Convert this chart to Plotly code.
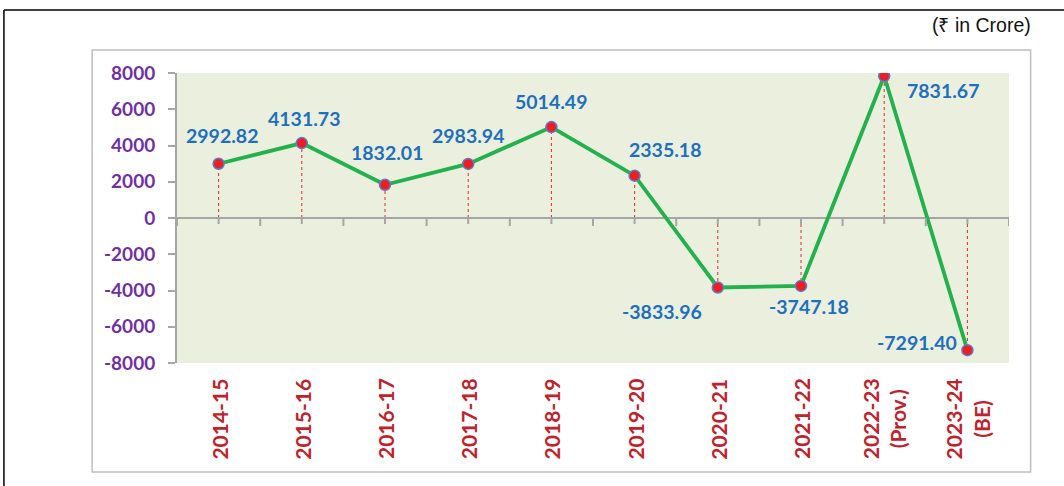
import plotly.graph_objects as go

years = ["2014-15", "2015-16", "2016-17", "2017-18", "2018-19", "2019-20",
         "2020-21", "2021-22", "2022-23<br>(Prov.)", "2023-24<br>(BE)"]
values = [2992.82, 4131.73, 1832.01, 2983.94, 5014.49, 2335.18,
          -3833.96, -3747.18, 7831.67, -7291.40]
labels = ["2992.82", "4131.73", "1832.01", "2983.94", "5014.49", "2335.18",
          "-3833.96", "-3747.18", "7831.67", "-7291.40"]
y_ticks = [8000, 6000, 4000, 2000, 0, -2000, -4000, -6000, -8000]

# label offsets in pixels (style)
label_dx = [4, 3, 2, 0, 0, 31, -56, 8, 59, -50]
label_dy = [28, 25, 32, 28, 26, 26, -24, -21, -14, 8]

FONT = "Lato"
GREEN = "#22B14C"
RED = "#EE1C25"
BLUE = "#1F6FBF"
PURPLE = "#7030A0"
XLAB = "#C0222C"
GRAY = "#A6A6A6"

fig = go.Figure()

fig.add_trace(go.Scatter(
    x=list(range(len(years))), y=values, mode="lines+markers",
    line=dict(color=GREEN, width=3.8),
    marker=dict(size=11, color=RED, line=dict(color="#5B7FC0", width=1.5)),
    hoverinfo="skip", showlegend=False,
))

shapes = []
# drop lines
for i, v in enumerate(values):
    shapes.append(dict(type="line", xref="x", yref="y", x0=i, x1=i, y0=0, y1=v,
                       line=dict(color="#E8262E", width=1, dash="dot"), layer="below"))
# ticks on zero line
n = len(years)
for k in range(2 * n + 1):
    xv = -0.5 + k * 0.5
    shapes.append(dict(type="line", xref="x", yref="y", ysizemode="pixel", yanchor=0,
                       x0=xv, x1=xv, y0=0, y1=-8 if k % 2 == 0 else -6,
                       line=dict(color=GRAY, width=2)))
# outer frame (black) and inner frame (gray)
shapes.append(dict(type="line", xref="paper", yref="paper", x0=-0.208, x1=1.07, y0=1.217, y1=1.217,
                   line=dict(color="#000000", width=1.5)))
shapes.append(dict(type="line", xref="paper", yref="paper", x0=-0.208, x1=-0.208, y0=1.217, y1=-0.45,
                   line=dict(color="#000000", width=1.5)))
shapes.append(dict(type="rect", xref="paper", yref="paper", x0=-0.102, x1=1.026, y0=1.079, y1=-0.376,
                   line=dict(color="#BFBFBF", width=1.5), fillcolor="rgba(0,0,0,0)", layer="below"))

annotations = []
for i, (v, t) in enumerate(zip(values, labels)):
    annotations.append(dict(x=i, y=v, xref="x", yref="y", text=t, showarrow=False,
                            xshift=label_dx[i], yshift=label_dy[i],
                            font=dict(family=FONT, size=19.5, color=BLUE, weight="bold")))
# category labels (rotated, centred lines)
for i, yr in enumerate(years):
    annotations.append(dict(x=i, y=-0.05, xref="x", yref="paper", text=yr, showarrow=False,
                            textangle=-90, align="center", xanchor="center", yanchor="top",
                            borderpad=0,
                            font=dict(family=FONT, size=21, color=XLAB, weight="bold")))
annotations.append(dict(x=1.029, y=1.166, xref="paper", yref="paper", text="(₹ in Crore)",
                        showarrow=False, xanchor="right", yanchor="middle",
                        font=dict(family="Liberation Sans", size=19.5, color="#111111")))

fig.update_layout(
    width=1064, height=486,
    margin=dict(l=177, r=55, t=73, b=123),
    paper_bgcolor="white", plot_bgcolor="#EBF0DE",
    shapes=shapes, annotations=annotations,
    xaxis=dict(range=[-0.5, n - 0.5], showticklabels=False,
               showgrid=False, zeroline=False, showline=False, ticks=""),
    yaxis=dict(range=[-8000, 8000], tickmode="array", tickvals=y_ticks,
               ticktext=[str(t) for t in y_ticks], showgrid=False,
               zeroline=True, zerolinecolor=GRAY, zerolinewidth=2,
               showline=True, linecolor=GRAY, linewidth=2, ticks="outside", ticklen=7,
               tickcolor=GRAY, tickwidth=2, ticklabelstandoff=9,
               tickfont=dict(family=FONT, size=19, color=PURPLE, weight="bold")),
)

fig.write_html("out.html", config={"displayModeBar": False},
               post_script="document.body.style.margin='0';")
